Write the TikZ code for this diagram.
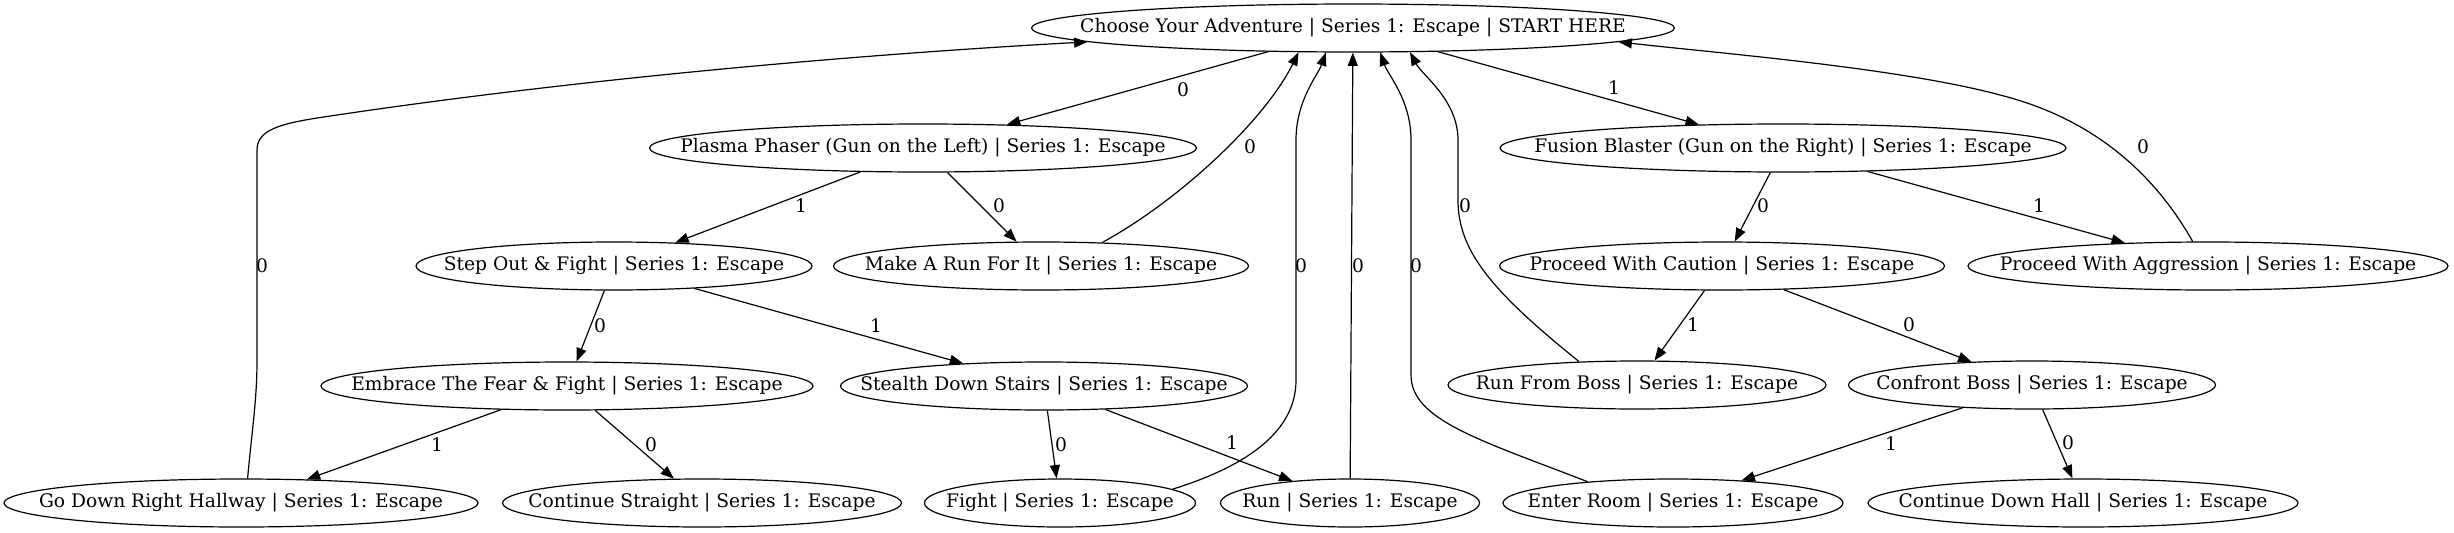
\documentclass[tikz,border=0pt]{standalone}
\usepackage{fontspec}
\setmainfont{DejaVu Serif}
\usetikzlibrary{arrows.meta,shapes.geometric}
\begin{document}
\begin{tikzpicture}[x=0.75pt,y=-0.75pt,
  gnode/.style={draw, ellipse, inner sep=0pt, minimum height=36pt, line width=0.9pt,
    font=\fontsize{14}{16}\selectfont},
  wd/.style={minimum width=#1*0.75pt},
  edge/.style={draw, line width=0.9pt, -{Triangle[length=10pt,width=7.5pt]}},
  lab/.style={font=\fontsize{14}{16}\selectfont, inner sep=0pt}]
\fill[white] (0,0) rectangle (2454,532);
\useasboundingbox (0,0) rectangle (2454,532);

% nodes
\node[gnode, wd=643] (start) at (1353,28) {\makebox[0pt]{Choose Your Adventure | Series 1: Escape | START HERE}};
\node[gnode, wd=547] (plasma) at (923,148) {\makebox[0pt]{Plasma Phaser (Gun on the Left) | Series 1: Escape}};
\node[gnode, wd=566] (fusion) at (1783,148) {\makebox[0pt]{Fusion Blaster (Gun on the Right) | Series 1: Escape}};
\node[gnode, wd=396] (stepout) at (614,266) {\makebox[0pt]{Step Out \& Fight | Series 1: Escape}};
\node[gnode, wd=415] (makerun) at (1041,266) {\makebox[0pt]{Make A Run For It | Series 1: Escape}};
\node[gnode, wd=445] (caution) at (1722,266) {\makebox[0pt]{Proceed With Caution | Series 1: Escape}};
\node[gnode, wd=480] (aggression) at (2208,266) {\makebox[0pt]{Proceed With Aggression | Series 1: Escape}};
\node[gnode, wd=492] (embrace) at (567,386) {\makebox[0pt]{Embrace The Fear \& Fight | Series 1: Escape}};
\node[gnode, wd=407] (stealth) at (1044,386) {\makebox[0pt]{Stealth Down Stairs | Series 1: Escape}};
\node[gnode, wd=378] (runboss) at (1637,385) {\makebox[0pt]{Run From Boss | Series 1: Escape}};
\node[gnode, wd=367] (confront) at (2032,385) {\makebox[0pt]{Confront Boss | Series 1: Escape}};
\node[gnode, wd=474] (godown) at (241,503) {\makebox[0pt]{Go Down Right Hallway | Series 1: Escape}};
\node[gnode, wd=399] (contstraight) at (702,503) {\makebox[0pt]{Continue Straight | Series 1: Escape}};
\node[gnode, wd=271] (fight) at (1060,503) {\makebox[0pt]{Fight | Series 1: Escape}};
\node[gnode, wd=259] (run) at (1350,503) {\makebox[0pt]{Run | Series 1: Escape}};
\node[gnode, wd=340] (enterroom) at (1673,503) {\makebox[0pt]{Enter Room | Series 1: Escape}};
\node[gnode, wd=430] (contdownhall) at (2083,503) {\makebox[0pt]{Continue Down Hall | Series 1: Escape}};

% tree edges
\draw[edge] (start) -- (plasma);
\draw[edge] (start) -- (fusion);
\draw[edge] (plasma) -- (stepout);
\draw[edge] (plasma) -- (makerun);
\draw[edge] (fusion) -- (caution);
\draw[edge] (fusion) -- (aggression);
\draw[edge] (stepout) -- (embrace);
\draw[edge] (stepout) -- (stealth);
\draw[edge] (caution) -- (runboss);
\draw[edge] (caution) -- (confront);
\draw[edge] (embrace) -- (godown);
\draw[edge] (embrace) -- (contstraight);
\draw[edge] (stealth) -- (fight);
\draw[edge] (stealth) -- (run);
\draw[edge] (confront) -- (enterroom);
\draw[edge] (confront) -- (contdownhall);

% back edges to start
\draw[edge] (godown.75) .. controls (252,430) and (257,400) .. (257,360) -- (257,150)
  .. controls (257,130) and (280,124) .. (317,118)
  .. controls (600,75) and (900,52) .. (start.183.1);
\draw[edge] (makerun.21) .. controls (1180,200) and (1265,120) .. (start.204.1);
\draw[edge] (fight.7) .. controls (1250,465) and (1296,430) .. (1296,380) -- (1296,140)
  .. controls (1296,100) and (1318,75) .. (start.222.6);
\draw[edge] (run) -- (start);
\draw[edge] (enterroom.166.2) .. controls (1480,440) and (1411,420) .. (1411,375) -- (1411,140)
  .. controls (1411,100) and (1388,75) .. (start.318.5);
\draw[edge] (runboss.158.1) .. controls (1490,290) and (1458,250) .. (1458,200) -- (1458,140)
  .. controls (1458,100) and (1422,75) .. (start.337.9);
\draw[edge] (aggression.122) .. controls (2155,175) and (2095,119) .. (2000,95)
  .. controls (1900,68) and (1717,53) .. (start.357);

% edge labels
\node[lab] (l1) at (1183,90) {0};
\node[lab] (l2) at (1614,88) {1};
\node[lab] (l3) at (801,206) {1};
\node[lab] (l4) at (999,206) {0};
\node[lab] (l5) at (1763,206) {0};
\node[lab] (l6) at (2039,206) {1};
\node[lab] (l7) at (600,326) {0};
\node[lab] (l8) at (876,326) {1};
\node[lab] (l9) at (1693,325) {1};
\node[lab] (l10) at (1909,325) {0};
\node[lab] (l11) at (437,445) {1};
\node[lab] (l12) at (651,445) {0};
\node[lab] (l13) at (1061,445) {0};
\node[lab] (l14) at (1232,443) {1};
\node[lab] (l15) at (1891,444) {1};
\node[lab] (l16) at (2068,443) {0};
\node[lab] (l17) at (262,266) {0};
\node[lab] (l18) at (1250,147) {0};
\node[lab] (l19) at (1301,266) {0};
\node[lab] (l20) at (1358,266) {0};
\node[lab] (l21) at (1416,266) {0};
\node[lab] (l22) at (1465,206) {0};
\node[lab] (l23) at (2143,147) {0};
\end{tikzpicture}
\end{document}
